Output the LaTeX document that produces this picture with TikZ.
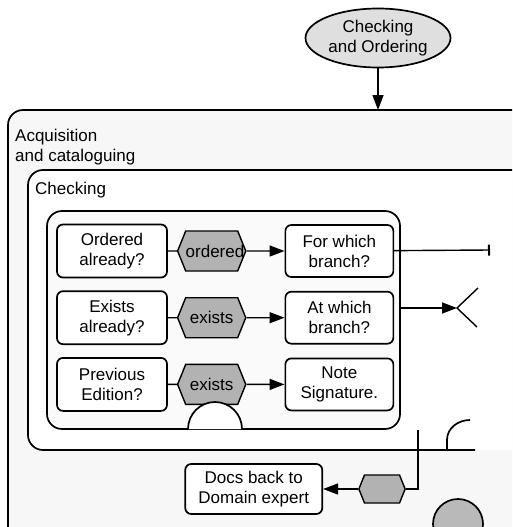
\documentclass[tikz,border=0pt]{standalone}
\usepackage{fontspec}
\setmainfont{Liberation Sans}
\usetikzlibrary{arrows.meta,positioning,shapes.geometric,shapes.symbols}

\begin{document}
\begin{tikzpicture}[
  x=1pt, y=-1pt,
  font=\fontsize{17pt}{20pt}\selectfont,
  box/.style={draw, line width=1.7pt, rounded corners=6pt, fill=white, minimum width=110pt, minimum height=53pt, align=center, inner sep=0pt},
  rbox/.style={box, minimum width=108pt, minimum height=52pt},
  hexa/.style={draw, line width=1.4pt, signal, signal to=west and east, signal pointer angle=136, fill=gray!60, text width=52pt, align=center, minimum height=40pt, inner sep=0pt},
  frame/.style={draw, line width=1.7pt, rounded corners=15pt},
  ln/.style={line width=1.4pt},
  arr/.style={ln, -{Triangle[length=15pt,width=11pt]}}
]
  \clip (0,0) rectangle (512,527);

  % frames
  \draw[frame, fill=gray!6] (540,110) -- (8,110) -- (8,545) -- (540,545);
  \fill[white, rounded corners=15pt] (28,170) rectangle (540,450);
  \draw[frame] (540,170) -- (28,170) -- (28,450) -- (475,450);
  \node[anchor=west, align=left, inner sep=0pt] (acq) at (15,147) {Acquisition\\and cataloguing};
  \node[anchor=west, inner sep=0pt] (chk) at (35,190) {Checking};
  \node[frame, fill=gray!4, minimum width=353pt, minimum height=218pt] (inner) at (223.5,320) {};

  \node[draw, ellipse, line width=1.7pt, fill=gray!25, minimum width=145pt, minimum height=59pt, align=center, inner sep=0pt] (chkord) at (378,38) {Checking\\and Ordering};
  \coordinate (acqtop) at (378,110);

  % rows
  \node[box] (ord) at (112,251) {Ordered\\already?};
  \node[hexa, right=9pt of ord] (ordhex) {ordered};
  \node[rbox, right=38pt of ordhex] (forbr) {For which\\branch?};

  \node[box, below=12pt of ord] (exi) {Exists\\already?};
  \node[hexa, right=9pt of exi] (exihex) {exists};
  \node[rbox, right=38pt of exihex] (atbr) {At which\\branch?};

  \node[box, below=12pt of exi] (prev) {Previous\\Edition?};
  \node[hexa, right=9pt of prev] (prevhex) {exists};
  \node[rbox, right=38pt of prevhex] (note) {Note\\Signature.};

  \node[hexa, text width=35pt, minimum height=28pt] (dochex) at (382,489) {};
  \node[box, left=35pt of dochex, minimum width=137pt, minimum height=50pt] (docs) {Docs back to\\Domain expert};

  \coordinate (forend) at (490,250);
  \coordinate (atout) at (400,308);
  \coordinate (fork) at (457,308);
  \coordinate (forkup) at (478,288);
  \coordinate (forkdn) at (477,327);
  \coordinate (drop) at (418,430);

  \draw[arr] (chkord) -- (acqtop);
  \draw[ln] (ord) -- (ordhex);
  \draw[arr] (ordhex) -- (forbr);
  \draw[ln] (exi) -- (exihex);
  \draw[arr] (exihex) -- (atbr);
  \draw[ln] (prev) -- (prevhex);
  \draw[arr] (prevhex) -- (note);

  \draw[ln, -{Bar[width=11pt, line width=2pt]}] (forbr) -- (forend);
  \draw[arr] (atout) -- (fork);
  \draw[ln] (forkup) -- (fork) -- (forkdn);
  \draw[ln] (drop) |- (dochex.east);
  \draw[arr] (dochex) -- (docs);

  % stubs
  \draw[line width=1.7pt, fill=white] (188,429) arc[start angle=180, end angle=0, radius=27pt];
  \draw[line width=1.7pt] (447,450) -- (447,440) to[out=90, in=180] (470,420);
  \draw[line width=1.7pt, fill=gray!55] (458,524) circle[radius=25pt];
\end{tikzpicture}
\end{document}
